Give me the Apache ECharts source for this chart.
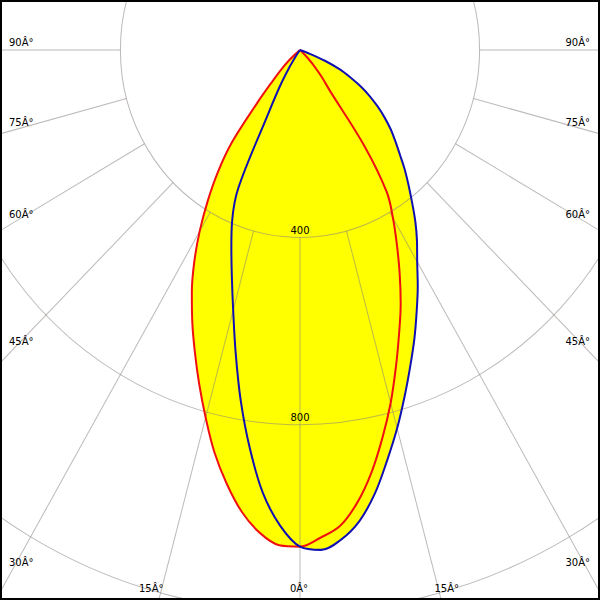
<!DOCTYPE html>
<html><head><meta charset="utf-8">
<script src="https://cdn.jsdelivr.net/npm/echarts@6/dist/echarts.min.js"></script>
<style>
html,body{margin:0;padding:0;background:#fff;overflow:hidden}
#wrap{position:relative;width:600px;height:600px;overflow:hidden;background:#fff}
#main{position:absolute;left:0;top:0;width:600px;height:575px;transform:scaleY(1.0434783);transform-origin:0 0}
#frame{position:absolute;left:0;top:0;width:600px;height:600px;box-sizing:border-box;border:2px solid #000;pointer-events:none}
</style></head><body>
<div id="wrap"><div id="main"></div><div id="frame"></div></div>
<script>
// gamma angles (degrees from nadir)
const gamma     = [0, 2.5, 5, 7.5, 10, 12.5, 15, 17.5, 20, 22.5, 25, 27.5, 30, 32.5, 35, 37.5, 40, 42.5, 45,
                   47.5, 50, 52.5, 55, 57.5, 60, 62.5, 65, 67.5, 70, 72.5, 75, 80, 85, 90, 180];
// red curve (C0 / C180 plane), left and right halves
const redLeft   = [1060, 1058, 1034, 994, 940, 880, 812, 747, 685, 627, 570, 510, 447, 383, 320, 251, 152, 92, 60,
                   35, 10, 0, 0, 0, 0, 0, 0, 0, 0, 0, 0, 0, 0, 0, 0];
const redRight  = [1060, 1042, 1020, 975, 916, 848, 780, 710, 645, 586, 525, 467, 414, 360, 250, 108, 76, 48, 25,
                   10, 0, 0, 0, 0, 0, 0, 0, 0, 0, 0, 0, 0, 0, 0, 0];
// blue curve (C90 / C270 plane), left and right halves
const blueLeft  = [1060, 1016, 949, 857, 760, 662, 575, 505, 447, 395, 325, 153, 90, 45, 15, 0, 0, 0, 0,
                   0, 0, 0, 0, 0, 0, 0, 0, 0, 0, 0, 0, 0, 0, 0, 0];
const blueRight = [1060, 1068, 1049, 1014, 961, 897, 836, 775, 718, 666, 615, 568, 522, 485, 448, 410, 376, 345, 314,
                   288, 264, 238, 212, 185, 157, 126, 97, 60, 20, 0, 0, 0, 0, 0, 0];
// axis ticks
const radiusTicks = [400, 800];
const radiusMax = 1200;
const angleTicks = [0, 15, 30, 45, 60, 75, 90];
const angleTickLabels = angleTicks.map(t => t + '\u00C2\u00B0');

// layout
const K = 600 / 575;             // vertical stretch of the diagram
const CX = 300, CYF = 50;        // pole in final pixels
const CY = CYF / K;
const PX_PER_UNIT = 0.449;
const R_OUT = radiusMax * PX_PER_UNIT;
const R_IN = radiusTicks[0] * PX_PER_UNIT;

// closed loop starting and ending at the pole: right half uses negative angles
function loop(left, right) {
  const pts = [];
  for (let i = gamma.length - 1; i >= 1; i--) pts.push([right[i], -gamma[i]]);
  pts.push([(left[0] + right[0]) / 2, 0]);
  for (let i = 1; i < gamma.length; i++) pts.push([left[i], gamma[i]]);
  return pts;
}
const redData = loop(redLeft, redRight);
const blueData = loop(blueLeft, blueRight);

const gridColor = 'rgba(135,130,125,0.55)';
// radial line colours: visible for 0..90 on both sides only
const radialColors = [];
for (let a = 0; a < 360; a += 15) radialColors.push((a <= 90 || a >= 270) ? gridColor : 'rgba(0,0,0,0)');

// edge labels
const FONT = '10px "DejaVu Sans"';
const graphics = [];
angleTicks.forEach((t, idx) => {
  const sides = t === 0 ? [0] : [-1, 1];
  const rad = t * Math.PI / 180;
  sides.forEach(side => {
    const yAtSide = CYF + 291 * K * Math.cos(rad) / Math.max(Math.sin(rad), 1e-9);
    let x, y, align;
    if (t >= 30) {
      y = yAtSide - 2 - 7.5 * Math.cos(rad);
      x = side < 0 ? 9 : 590;
      align = side < 0 ? 'left' : 'right';
    } else {
      const exitX = CX + side * (600 - CYF) * Math.tan(rad) / K;
      x = exitX + 6.5 * side - 1;
      y = 594;
      align = 'center';
    }
    graphics.push({
      type: 'text', z: 20,
      style: { text: angleTickLabels[idx], x: x, y: y / K, font: FONT, fill: '#000',
               align: align, verticalAlign: 'bottom', textAlign: align, textVerticalAlign: 'bottom' }
    });
  });
});

const SMOOTH = 0.35;
const hiddenAxis = { axisLine: { show: false }, axisTick: { show: false }, axisLabel: { show: false }, splitLine: { show: false } };
const chart = echarts.init(document.getElementById('main'), null, { renderer: 'svg' });
chart.setOption({
  animation: false,
  backgroundColor: '#fff',
  polar: [
    { center: [CX, CY], radius: R_OUT },          // intensity circles + labels
    { center: [CX, CY], radius: [R_IN, 900] },    // radial angle lines
    { center: [CX, CY], radius: R_OUT }           // data
  ],
  angleAxis: [
    Object.assign({ polarIndex: 0, type: 'value', min: 0, max: 360, startAngle: 270, clockwise: true }, hiddenAxis),
    { polarIndex: 1, type: 'value', min: 0, max: 360, interval: 15, startAngle: 270, clockwise: true, z: 5,
      axisLine: { show: false }, axisTick: { show: false }, axisLabel: { show: false },
      splitLine: { show: true, lineStyle: { color: radialColors, width: 1 } } },
    Object.assign({ polarIndex: 2, type: 'value', min: -180, max: 180, startAngle: 90, clockwise: true }, hiddenAxis)
  ],
  radiusAxis: [
    { polarIndex: 0, type: 'value', min: 0, max: radiusMax, interval: 400, z: 5,
      axisLine: { show: false }, axisTick: { show: false },
      axisLabel: { show: true, margin: 0, align: 'center', verticalAlign: 'bottom', color: '#000',
                   fontSize: 10, fontFamily: 'DejaVu Sans', padding: [0, 0, 2, 0],
                   formatter: v => radiusTicks.indexOf(v) >= 0 ? String(v) : '' },
      splitLine: { show: true, lineStyle: { color: gridColor, width: 1 } } },
    Object.assign({ polarIndex: 1, type: 'value', min: 0, max: 1 }, hiddenAxis),
    Object.assign({ polarIndex: 2, type: 'value', min: 0, max: radiusMax }, hiddenAxis)
  ],
  series: [
    { type: 'line', coordinateSystem: 'polar', polarIndex: 2, data: redData, symbol: 'none', smooth: SMOOTH, z: 1,
      lineStyle: { width: 0 }, areaStyle: { color: '#ffff00', opacity: 1 }, silent: true },
    { type: 'line', coordinateSystem: 'polar', polarIndex: 2, data: blueData, symbol: 'none', smooth: SMOOTH, z: 1,
      lineStyle: { width: 0 }, areaStyle: { color: '#ffff00', opacity: 1 }, silent: true },
    { type: 'line', coordinateSystem: 'polar', polarIndex: 2, data: redData, symbol: 'none', smooth: SMOOTH, z: 10,
      lineStyle: { width: 2, color: '#f01010' } },
    { type: 'line', coordinateSystem: 'polar', polarIndex: 2, data: blueData, symbol: 'none', smooth: SMOOTH, z: 11,
      lineStyle: { width: 2, color: '#1010b4' } }
  ],
  graphic: graphics
});
</script>
</body></html>
